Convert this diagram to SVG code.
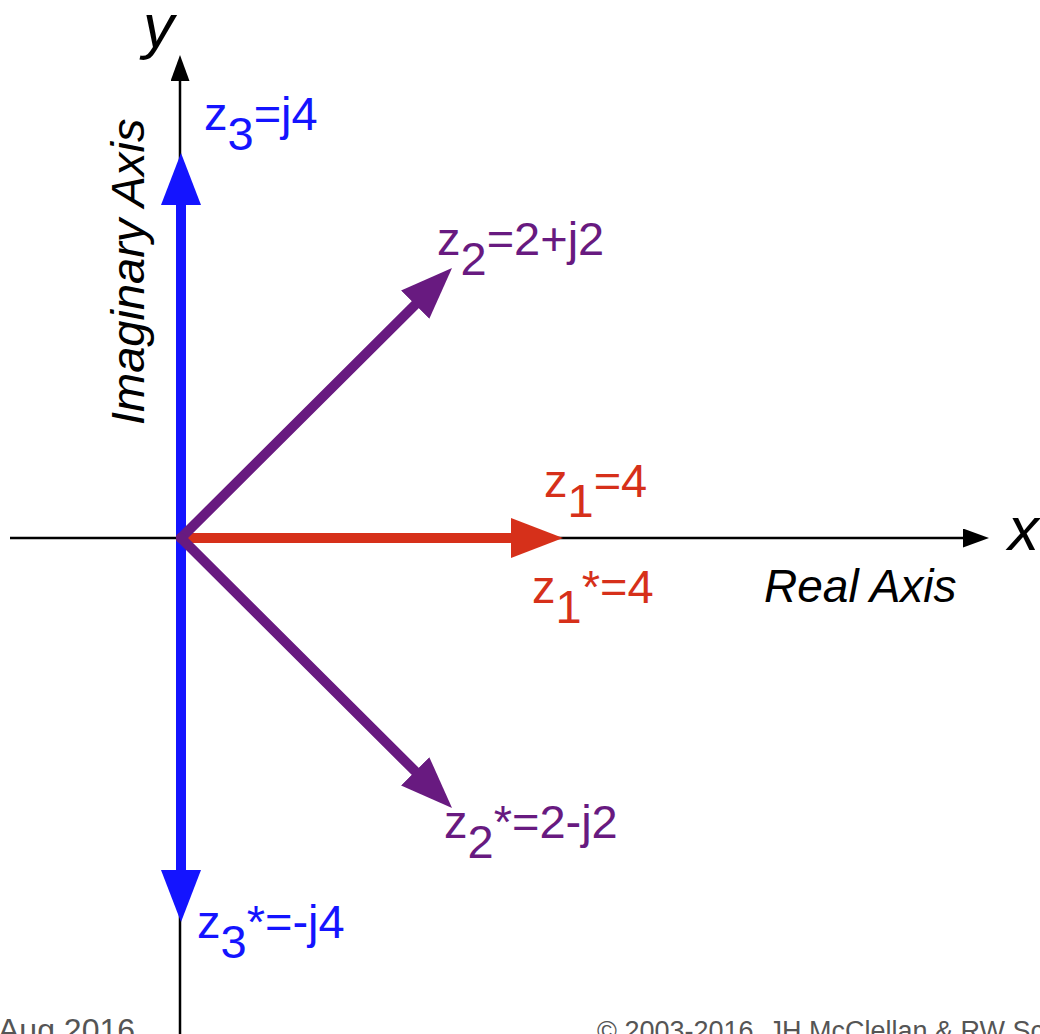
<svg xmlns="http://www.w3.org/2000/svg" width="1040" height="1034" viewBox="0 0 1040 1034">
<style>
text{font-family:"Liberation Sans",Arial,Helvetica,sans-serif}
.lbl{font-size:47px}
.blue{fill:#1414ff}
.red{fill:#d6301a}
.purple{fill:#681a80}
.axl{font-style:italic;fill:#000}
.foot{fill:#555;}
.vec{stroke-width:10;stroke-linecap:round;fill:none}
</style>
<defs>
<marker id="hk" markerUnits="userSpaceOnUse" viewBox="0 0 26 19" refX="0" refY="9.5" markerWidth="26" markerHeight="19" orient="auto"><path d="M0,0 L26,9.5 L0,19 z" fill="#000"/></marker>
<marker id="hb" markerUnits="userSpaceOnUse" viewBox="0 0 52 40" refX="0" refY="20" markerWidth="52" markerHeight="40" orient="auto"><path d="M0,0 L52,20 L0,40 z" fill="#1414ff"/></marker>
<marker id="hr" markerUnits="userSpaceOnUse" viewBox="0 0 52 40" refX="0" refY="20" markerWidth="52" markerHeight="40" orient="auto"><path d="M0,0 L52,20 L0,40 z" fill="#d6301a"/></marker>
<marker id="hp" markerUnits="userSpaceOnUse" viewBox="0 0 52 40" refX="0" refY="20" markerWidth="52" markerHeight="40" orient="auto"><path d="M0,0 L52,20 L0,40 z" fill="#681a80"/></marker>
</defs>
<rect width="1040" height="1034" fill="#fff"/>
<g id="connectors">
<line x1="10" y1="538" x2="963" y2="538" stroke="#000" stroke-width="2.5" marker-end="url(#hk)"/>
<line x1="180" y1="1040" x2="180" y2="81" stroke="#000" stroke-width="2.5" marker-end="url(#hk)"/>
<line class="vec" x1="181" y1="538" x2="181" y2="205" stroke="#1414ff" marker-end="url(#hb)"/>
<line class="vec" x1="181" y1="538" x2="181" y2="870" stroke="#1414ff" marker-end="url(#hb)"/>
<line class="vec" x1="181" y1="538" x2="511" y2="538" stroke="#d6301a" marker-end="url(#hr)"/>
<line class="vec" x1="181" y1="538" x2="415.2" y2="304.7" stroke="#681a80" marker-end="url(#hp)"/>
<line class="vec" x1="181" y1="538" x2="415.2" y2="771.3" stroke="#681a80" marker-end="url(#hp)"/>
</g>
<g id="axis-y-label"><text class="axl" x="143" y="47" font-size="62">y</text></g>
<g id="axis-x-label"><text class="axl" x="1008" y="550" font-size="62">x</text></g>
<g id="imag-axis-label"><text class="axl" font-size="47" transform="translate(144,425) rotate(-90)">Imaginary Axis</text></g>
<g id="real-axis-label"><text class="axl" font-size="46" x="764" y="602">Real Axis</text></g>
<g id="z3"><text class="lbl blue" x="204" y="130">z<tspan dy="20">3</tspan><tspan dy="-20">=j4</tspan></text></g>
<g id="z2"><text class="lbl purple" x="437" y="255">z<tspan dy="20">2</tspan><tspan dy="-20">=2+j2</tspan></text></g>
<g id="z1"><text class="lbl red" x="544" y="497">z<tspan dy="20">1</tspan><tspan dy="-20">=4</tspan></text></g>
<g id="z1conj"><text class="lbl red" x="532" y="603">z<tspan dy="20">1</tspan><tspan dy="-20">*=4</tspan></text></g>
<g id="z2conj"><text class="lbl purple" x="444" y="838">z<tspan dy="20">2</tspan><tspan dy="-20">*=2-j2</tspan></text></g>
<g id="z3conj"><text class="lbl blue" x="197" y="938">z<tspan dy="20">3</tspan><tspan dy="-20">*=-j4</tspan></text></g>
<g id="footer-date"><text class="foot" x="-2" y="1041" font-size="32">Aug 2016</text></g>
<g id="footer-copy"><text class="foot" x="597" y="1040" font-size="27">© 2003-2016, JH McClellan &amp; RW Schafer</text></g>
</svg>
